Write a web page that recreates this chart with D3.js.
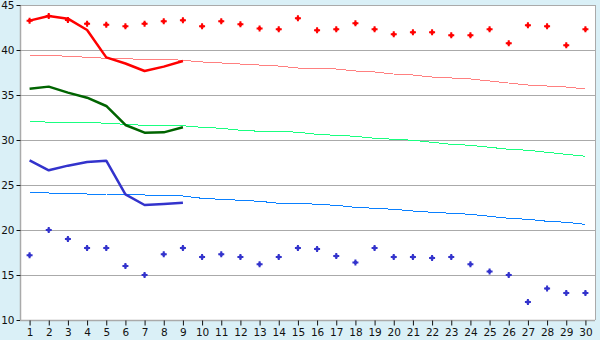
<!DOCTYPE html>
<html><head><meta charset="utf-8">
<script src="https://cdn.jsdelivr.net/npm/d3@7"></script>
<style>body{margin:0;background:#daf0f7;}svg{display:block;}</style>
</head><body>
<svg id="c" width="600" height="340"></svg>
<script>
const days = d3.range(1, 31);
const yTicks = [10, 15, 20, 25, 30, 35, 40, 45];
const maxPoints = [43.26,43.78,43.33,42.93,42.8,42.63,42.93,43.19,43.3,42.63,43.19,42.85,42.4,42.3,43.52,42.19,42.3,42.96,42.3,41.74,41.96,41.96,41.63,41.63,42.3,40.74,42.74,42.63,40.52,42.3];
const minPoints = [17.2,20,19,18,18,16,15,17.3,18,17,17.3,17,16.2,17,18,17.9,17.1,16.4,18,17,17,16.9,17,16.2,15.4,15,12,13.5,13,13];
const maxLine = [43.26,43.78,43.48,42.22,39.18,38.5,37.67,38.15,38.78];
const meanLine = [35.7,35.93,35.26,34.7,33.78,31.67,30.81,30.85,31.41];
const minLine = [27.74,26.63,27.15,27.56,27.7,23.96,22.78,22.89,23.04];
const maxNormal = [39.41,39.41,39.3,39.19,39.08,39.02,38.97,38.97,38.86,38.67,38.56,38.44,38.33,38.22,38.0,38.0,37.89,37.67,37.56,37.33,37.22,37.0,36.89,36.78,36.56,36.33,36.11,36.0,35.89,35.67];
const meanNormal = [32.11,31.97,31.97,31.97,31.86,31.74,31.63,31.63,31.58,31.41,31.3,31.08,30.97,30.97,30.86,30.63,30.52,30.41,30.19,30.08,29.97,29.74,29.52,29.41,29.19,28.97,28.86,28.63,28.41,28.19];
const minNormal = [24.22,24.11,24.11,24.0,24.0,23.89,23.89,23.78,23.78,23.52,23.41,23.3,23.19,22.97,22.97,22.86,22.74,22.52,22.41,22.3,22.11,21.97,21.86,21.74,21.52,21.3,21.19,20.97,20.86,20.63];

const L = 20, R = 595, T = 5, B = 320;
const svg = d3.select("#c");
const x = d3.scaleLinear().domain([0.5, 30.5]).range([L, R]);
const y = d3.scaleLinear().domain([10, 45]).range([B, T]);
const font = "'DejaVu Sans', sans-serif";

svg.append("rect").attr("x", L).attr("y", T).attr("width", R - L).attr("height", B - T).attr("fill", "#fff");

// grid
svg.append("g").selectAll("line").data(yTicks.filter(v => v > 10)).join("line")
  .attr("x1", L).attr("x2", R).attr("y1", d => Math.round(y(d)) + 0.5).attr("y2", d => Math.round(y(d)) + 0.5)
  .attr("stroke", "#aaaaaa").attr("stroke-width", 1);
svg.append("line").attr("x1", R + 0.5).attr("x2", R + 0.5).attr("y1", T).attr("y2", B).attr("stroke", "#aaaaaa");

// axes
const yAxis = d3.axisLeft(y).tickValues(yTicks).tickSize(4).tickPadding(2).tickFormat(d3.format("d"));
const gy = svg.append("g").attr("transform", `translate(${L + 0.5},0)`).call(yAxis);
const xAxis = d3.axisBottom(x).tickValues(days).tickSize(5).tickPadding(3).tickFormat(d3.format("d"));
const gx = svg.append("g").attr("transform", `translate(0,${B + 0.5})`).call(xAxis);
[gx, gy].forEach(g => {
  g.select(".domain").attr("stroke", "#aaaaaa").attr("stroke-width", 1.5);
  g.selectAll(".tick line").attr("stroke", "#111");
  g.selectAll("text").attr("fill", "#111").style("font-family", font).style("font-size", "10.5px");
});
gy.select(".domain").attr("d", `M0,${B}V${T}`);
gx.select(".domain").attr("d", `M${L},0H${R}`);

// normals
const line = d3.line().x((d, i) => x(i + 1)).y(d => y(d));
[[maxNormal, "#ff8080"], [meanNormal, "#19ff80"], [minNormal, "#0a80ff"]].forEach(([data, c]) => {
  svg.append("path").datum(data).attr("d", line).attr("fill", "none").attr("stroke", c)
    .attr("stroke-width", 1).attr("shape-rendering", "crispEdges");
});

// observed lines
[[maxLine, "#ff0000"], [meanLine, "#006400"], [minLine, "#3333cc"]].forEach(([data, c]) => {
  svg.append("path").datum(data).attr("d", line).attr("fill", "none").attr("stroke", c)
    .attr("stroke-width", 2.5).attr("stroke-linejoin", "round");
});

// markers
const sym = d3.symbol().type(d3.symbolCross).size(20);
const dia = d3.symbol().type(d3.symbolSquare).size(9);
[[maxPoints, "#ff0000"], [minPoints, "#3333cc"]].forEach(([data, c]) => {
  const g = svg.append("g");
  g.selectAll("path.c").data(data).join("path").attr("class", "c")
    .attr("d", sym).attr("transform", (d, i) => `translate(${x(i + 1)},${y(d)})`).attr("fill", c);
  g.selectAll("path.s").data(data).join("path").attr("class", "s")
    .attr("d", dia).attr("transform", (d, i) => `translate(${x(i + 1)},${y(d)})`).attr("fill", c);
});
</script>
</body></html>
